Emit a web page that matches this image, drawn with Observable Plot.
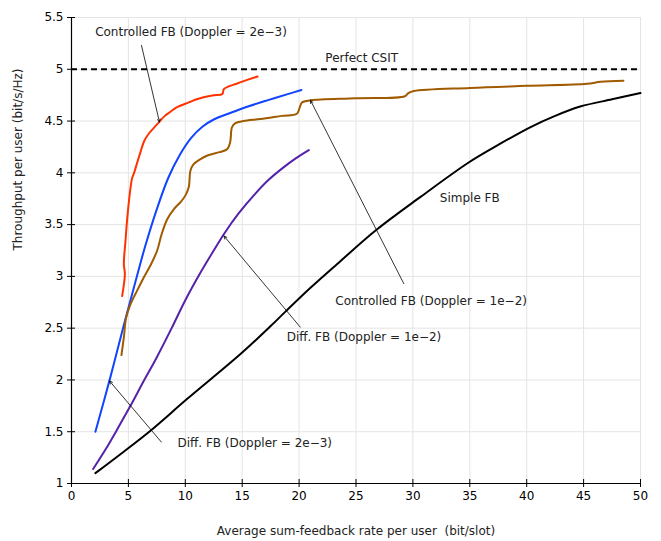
<!DOCTYPE html>
<html>
<head>
<meta charset="utf-8">
<script src="https://cdn.jsdelivr.net/npm/d3@7"></script>
<script src="https://cdn.jsdelivr.net/npm/@observablehq/plot@0.6"></script>
<style>
  html, body { margin: 0; padding: 0; background: #fff; }
  #chart { width: 661px; height: 541px; }
</style>
</head>
<body>
<div id="chart"></div>
<script>
// ---- data ----
const xTicks = [0, 5, 10, 15, 20, 25, 30, 35, 40, 45, 50];
const yTicks = [1, 1.5, 2, 2.5, 3, 3.5, 4, 4.5, 5, 5.5];
const xLabel = "Average sum-feedback rate per user  (bit/slot)";
const yLabel = "Throughput per user (bit/s/Hz)";
const perfectCSIT = 5;

const controlled2e3 = [[4.45,2.81],[4.69,3.02],[4.6,3.12],[4.75,3.35],[4.89,3.55],[5.05,3.73],[5.18,3.85],[5.33,3.95],[5.5,4.0],[5.75,4.09],[6.06,4.2],[6.4,4.31],[6.8,4.38],[7.2,4.43],[7.7,4.49],[8.2,4.55],[8.7,4.59],[9.2,4.63],[9.6,4.65],[10.3,4.68],[11.0,4.71],[11.6,4.73],[12.5,4.75],[13.25,4.76],[13.4,4.81],[14.5,4.86],[15.5,4.90],[16.35,4.93]];
const diff2e3 = [[2.1,1.5],[3.4,2.02],[4.6,2.53],[5.5,2.9],[6.5,3.3],[7.5,3.65],[8.5,3.95],[9.5,4.17],[10.5,4.335],[11.5,4.445],[12.5,4.515],[14.0,4.58],[15.5,4.64],[17.2,4.7],[19.0,4.76],[20.2,4.80]];
const controlled1e2 = [[4.39,2.24],[4.6,2.41],[4.8,2.6],[5.18,2.73],[5.8,2.87],[6.35,2.99],[7.0,3.12],[7.53,3.25],[7.9,3.4],[8.4,3.55],[9.0,3.65],[9.6,3.72],[10.0,3.78],[10.3,3.86],[10.45,4.02],[10.7,4.08],[11.3,4.13],[12.0,4.17],[13.0,4.2],[13.7,4.23],[13.95,4.3],[14.1,4.44],[14.4,4.48],[15.1,4.5],[16.6,4.52],[18.5,4.55],[19.8,4.57],[20.05,4.63],[20.25,4.68],[21.0,4.70],[25,4.72],[29.3,4.74],[29.6,4.77],[30.1,4.79],[35,4.82],[40,4.84],[45.3,4.86],[46.5,4.88],[48.5,4.89]];
const diff1e2 = [[1.9,1.14],[3.0,1.33],[4.0,1.52],[5.18,1.75],[6.3,1.98],[7.5,2.22],[8.8,2.5],[10.0,2.77],[11.3,3.03],[12.5,3.25],[13.4,3.41],[14.7,3.61],[16.0,3.78],[17.3,3.93],[18.6,4.05],[19.7,4.14],[20.85,4.22]];
const simpleFB = [[2.1,1.10],[4.5,1.30],[6.94,1.51],[10.2,1.82],[14.85,2.25],[17.5,2.52],[18.8,2.66],[21.0,2.89],[23.35,3.12],[26.8,3.45],[30.7,3.77],[34.9,4.10],[37.5,4.27],[40.3,4.44],[42.5,4.55],[44.7,4.64],[47.5,4.71],[50,4.77]];

const seriesNames = ["Controlled FB (Doppler = 2e\u22123)", "Diff. FB (Doppler = 2e\u22123)", "Controlled FB (Doppler = 1e\u22122)", "Diff. FB (Doppler = 1e\u22122)", "Simple FB"];
const seriesColors = ["#ff3300", "#1144ff", "#a05a00", "#5522aa", "#000000"];

// annotation labels (data coordinates) and arrows
const labelText = ["Controlled FB (Doppler = 2e\u22123)", "Perfect CSIT", "Simple FB", "Controlled FB (Doppler = 1e\u22122)", "Diff. FB (Doppler = 1e\u22122)", "Diff. FB (Doppler = 2e\u22123)"];
const labelX = [10.5, 25.5, 35.0, 31.6, 25.7, 16.1];
const labelY = [5.36, 5.11, 3.76, 2.76, 2.41, 1.39];
const arrowFrom = [[6.15,5.23],[29.2,2.93],[20.1,2.51],[7.9,1.40]];
const arrowTo = [[7.73,4.49],[21.0,4.70],[13.4,3.39],[3.34,1.99]];

// ---- build tables ----
const allSeries = [controlled2e3, diff2e3, controlled1e2, diff1e2, simpleFB];
const lineData = allSeries.flatMap((s, i) => s.map(([x, y]) => ({x, y, series: seriesNames[i] + "#" + i, color: seriesColors[i]})));
const labels = labelText.map((t, i) => ({text: t, x: labelX[i], y: labelY[i]}));
const arrows = arrowFrom.map((f, i) => ({x1: f[0], y1: f[1], x2: arrowTo[i][0], y2: arrowTo[i][1]}));

const chart = Plot.plot({
  width: 661,
  height: 541,
  marginLeft: 71,
  marginRight: 21,
  marginTop: 17,
  marginBottom: 58,
  style: {fontFamily: "DejaVu Sans, sans-serif", fontSize: "12px", background: "#fff", color: "#000"},
  x: {domain: [0, 50]},
  y: {domain: [1, 5.5]},
  marks: [
    Plot.gridX(xTicks, {stroke: "#e4e4e4", strokeOpacity: 1, strokeWidth: 1}),
    Plot.gridY(yTicks, {stroke: "#e4e4e4", strokeOpacity: 1, strokeWidth: 1}),
    Plot.ruleY([perfectCSIT], {stroke: "#000", strokeWidth: 2, strokeDasharray: "6,4"}),
    Plot.line(lineData, {x: "x", y: "y", z: "series", stroke: "color", strokeWidth: 2, curve: "catmull-rom"}),
    Plot.arrow(arrows, {x1: "x1", y1: "y1", x2: "x2", y2: "y2", stroke: "#000", strokeWidth: 0.8, headLength: 6, headAngle: 50}),
    Plot.text(labels, {x: "x", y: "y", text: "text", fontSize: 12, fill: "#222"}),
    Plot.ruleY([1], {stroke: "#000", strokeWidth: 1.2}),
    Plot.ruleX([0], {stroke: "#000", strokeWidth: 1.2}),
    Plot.axisX(xTicks, {tickSize: 8, dy: -4, tickFormat: () => "", stroke: "#000"}),
    Plot.axisX(xTicks, {tickSize: 0, tickPadding: 8, tickFormat: d => String(d), fontSize: 12, label: null}),
    Plot.axisY(yTicks, {tickSize: 8, dx: 4, tickFormat: () => "", stroke: "#000"}),
    Plot.axisY(yTicks, {tickSize: 0, tickPadding: 8, tickFormat: d => String(d), fontSize: 12, label: null}),
    Plot.text([xLabel], {frameAnchor: "bottom", dy: 51, fontSize: 12, fill: "#222"}),
    Plot.text([yLabel], {frameAnchor: "left", dx: -53, rotate: -90, fontSize: 12, fill: "#222"})
  ]
});
document.getElementById("chart").appendChild(chart);
</script>
</body>
</html>
